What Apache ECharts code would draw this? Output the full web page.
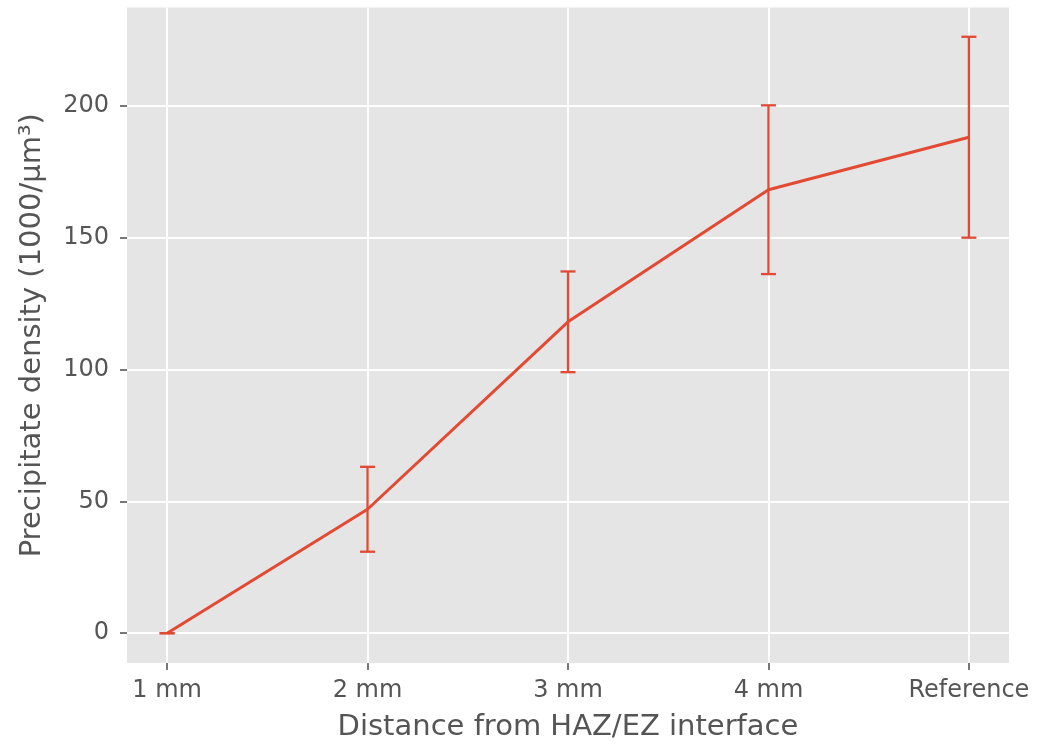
<!DOCTYPE html>
<html>
<head>
<meta charset="UTF-8">
<title>Precipitate density</title>
<script src="https://cdn.jsdelivr.net/npm/echarts@6/dist/echarts.min.js"></script>
<style>
  html, body { margin: 0; padding: 0; background: #fff; }
</style>
</head>
<body>
<div id="chart" style="width:1037px;height:747px;"></div>
<script>
// data
var categories = ['1 mm', '2 mm', '3 mm', '4 mm', 'Reference'];
var means = [0, 47, 118.1, 168.2, 188.1];
var errors = [0, 16.1, 19.1, 32, 38.1];
var yTicks = [0, 50, 100, 150, 200];
var xTicks = [0, 1, 2, 3, 4];

var red = '#E24A33';
var textColor = '#555555';

var lineData = [];
var barData = [];
for (var i = 0; i < categories.length; i++) {
  lineData.push([i, means[i]]);
  barData.push([i, means[i] - errors[i], means[i] + errors[i]]);
}

// vertical error bar with caps
function renderErrorBar(params, api) {
  var x = api.value(0);
  var top = api.coord([x, api.value(2)]);
  var bot = api.coord([x, api.value(1)]);
  var w = 7.5;
  var style = { stroke: red, lineWidth: 2.3 };
  return {
    type: 'group',
    children: [
      { type: 'line', shape: { x1: top[0], y1: top[1], x2: bot[0], y2: bot[1] }, style: style },
      { type: 'line', shape: { x1: top[0] - w, y1: top[1], x2: top[0] + w, y2: top[1] }, style: style },
      { type: 'line', shape: { x1: bot[0] - w, y1: bot[1], x2: bot[0] + w, y2: bot[1] }, style: style }
    ]
  };
}

var chart = echarts.init(document.getElementById('chart'));
var option = {
  animation: false,
  textStyle: { fontFamily: 'DejaVu Sans' },
  grid: {
    left: 127, right: 28, top: 7.5, bottom: 83,
    show: true, backgroundColor: '#E5E5E5', borderWidth: 0
  },
  xAxis: {
    type: 'value',
    min: -0.2, max: 4.2,
    name: 'Distance from HAZ/EZ interface',
    nameLocation: 'middle',
    nameGap: 50,
    nameTextStyle: { fontSize: 29, color: textColor },
    axisLine: { show: false, onZero: false },
    axisTick: { show: true, customValues: xTicks, length: 7, lineStyle: { color: textColor, width: 1.6 } },
    axisLabel: {
      customValues: xTicks, margin: 16, fontSize: 24, color: textColor,
      formatter: function (v) { return categories[Math.round(v)]; }
    },
    splitLine: { show: true, lineStyle: { color: '#ffffff', width: 1.8 } }
  },
  yAxis: {
    type: 'value',
    min: -11.3, max: 237.3,
    name: 'Precipitate density (1000/μm³)',
    nameLocation: 'middle',
    nameGap: 80,
    nameTextStyle: { fontSize: 29, color: textColor },
    axisLine: { show: false, onZero: false },
    axisTick: { show: true, customValues: yTicks, length: 7, lineStyle: { color: textColor, width: 1.6 } },
    axisLabel: { customValues: yTicks, margin: 18, fontSize: 24, color: textColor },
    splitLine: { show: true, lineStyle: { color: '#ffffff', width: 1.8 } }
  },
  series: [
    {
      type: 'line',
      data: lineData,
      symbol: 'none',
      lineStyle: { color: red, width: 3 },
      z: 3
    },
    {
      type: 'custom',
      data: barData,
      renderItem: renderErrorBar,
      encode: { x: 0, y: [1, 2] },
      z: 4
    }
  ]
};
chart.setOption(option);
</script>
</body>
</html>
